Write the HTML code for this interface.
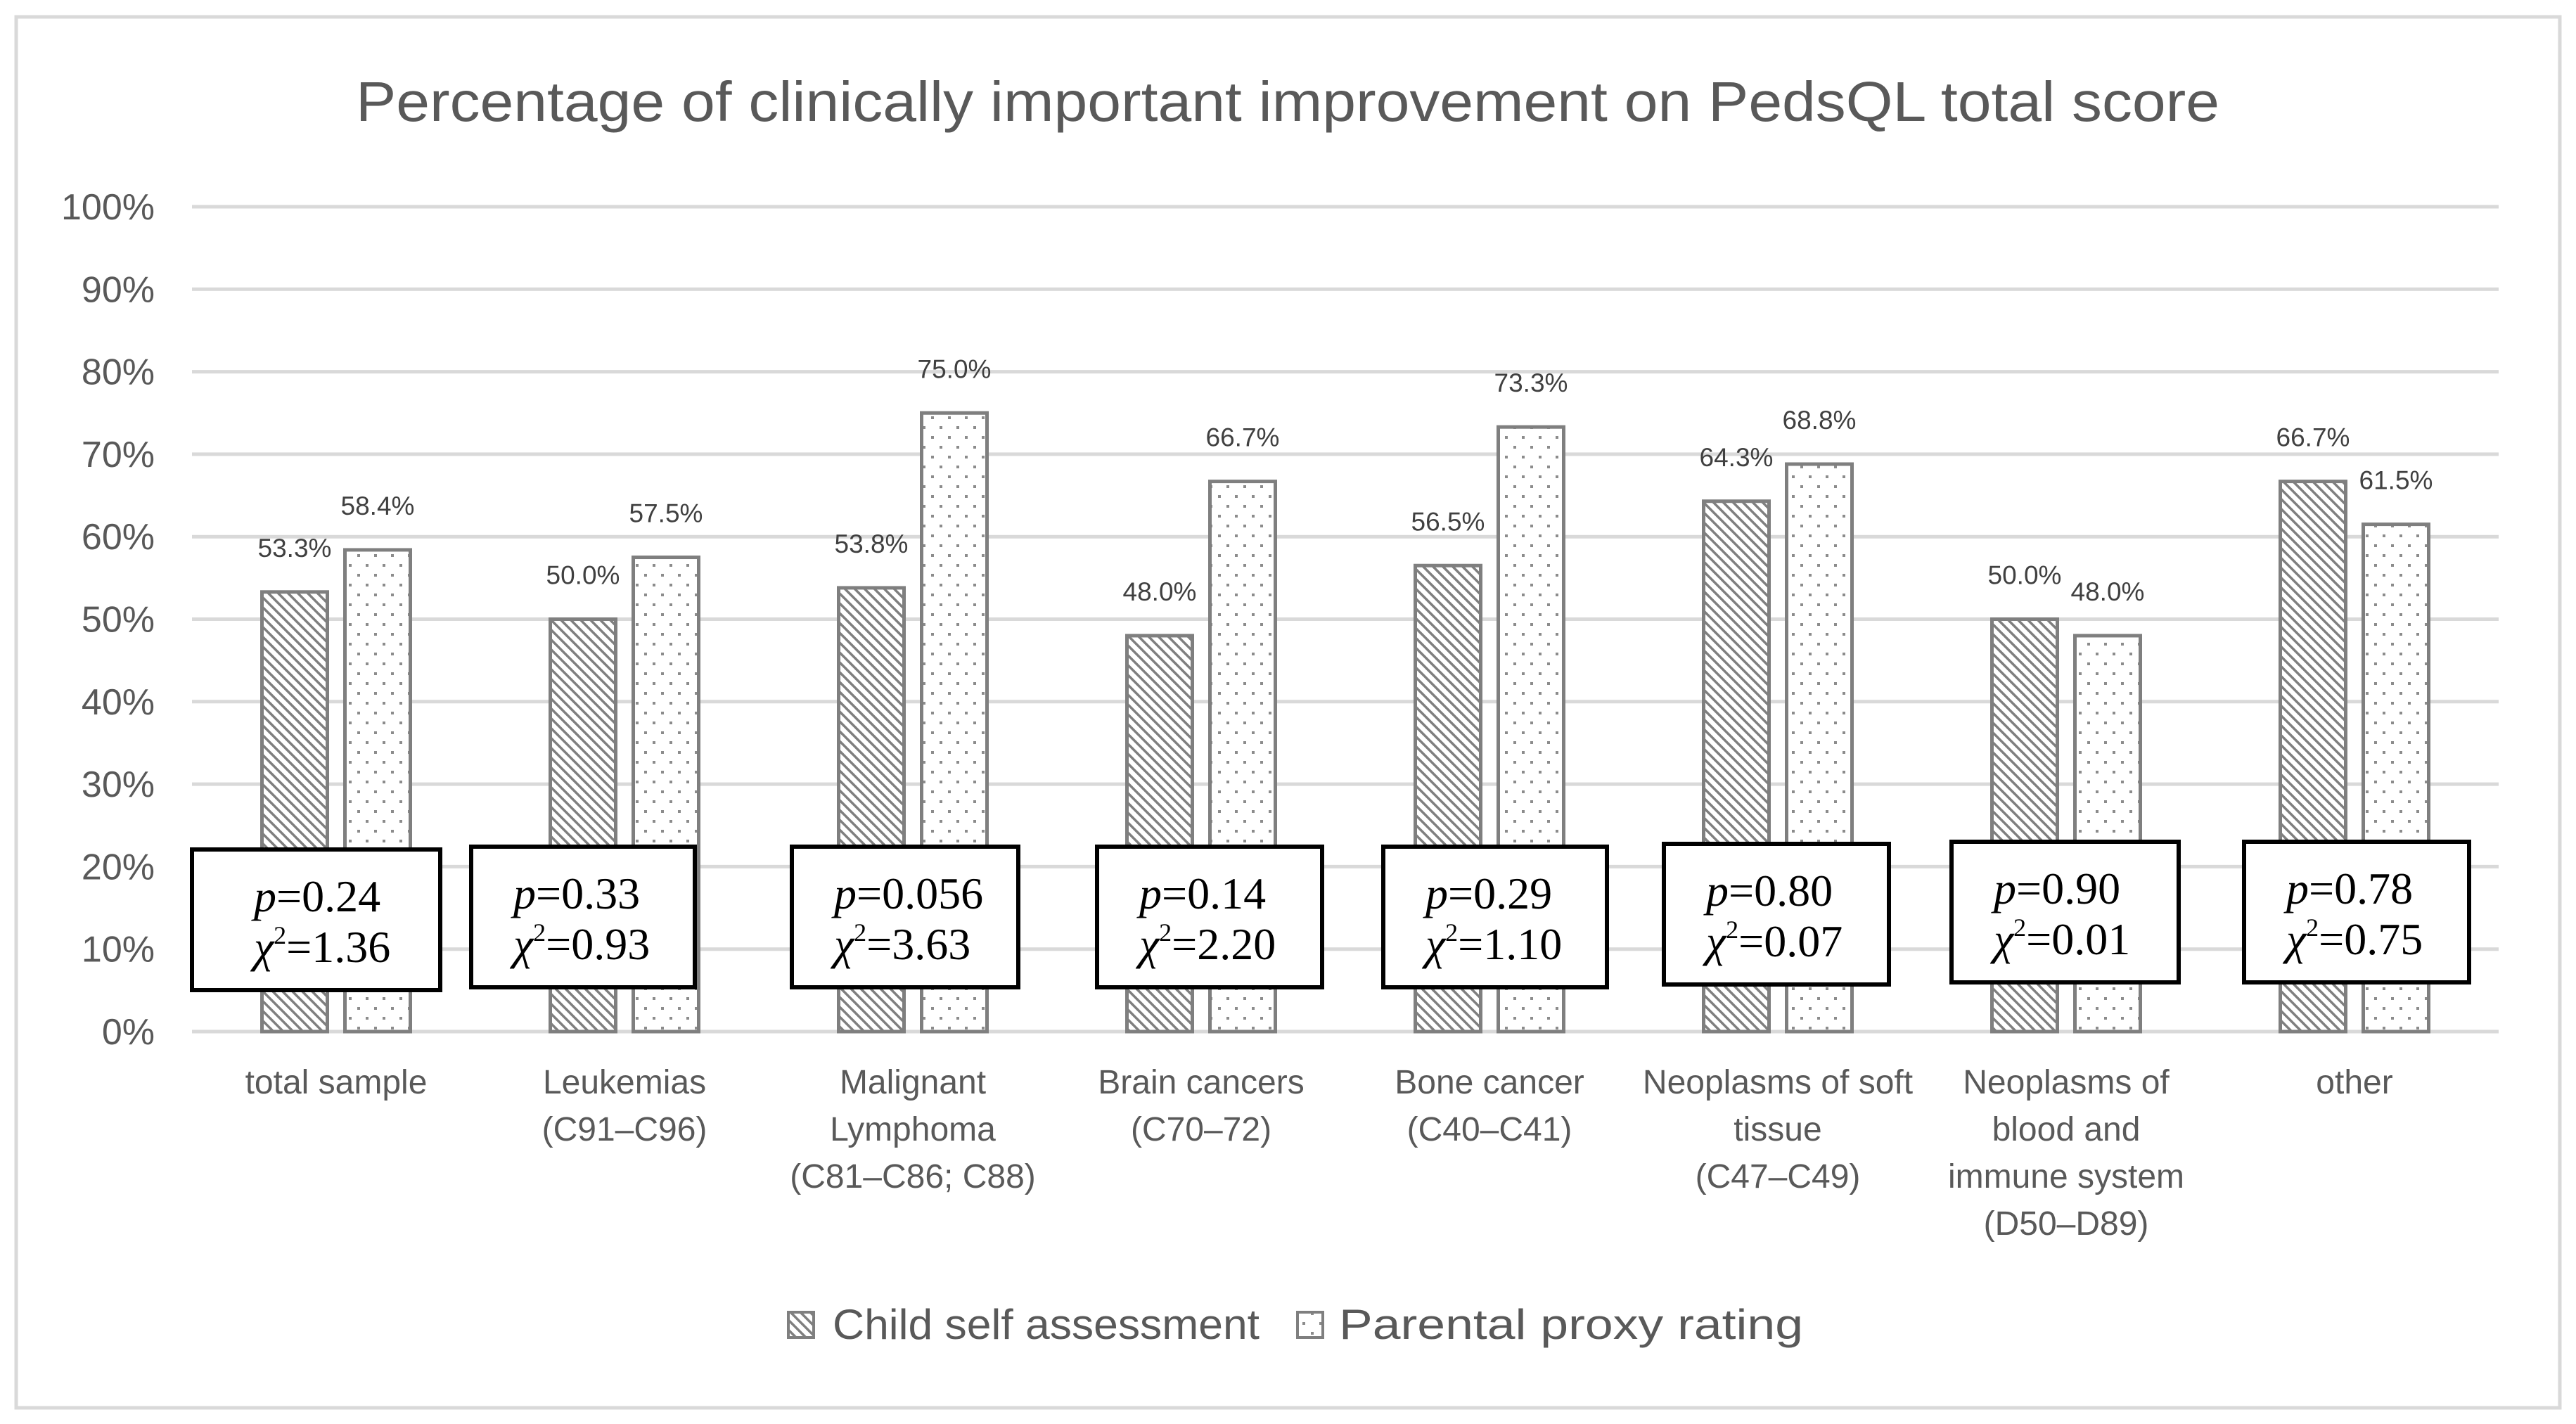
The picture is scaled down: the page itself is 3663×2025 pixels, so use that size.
<!DOCTYPE html>
<html><head><meta charset="utf-8"><style>
html,body{margin:0;padding:0;background:#fff;}
svg{display:block;}
</style></head><body>
<svg id="chart" width="3663" height="2025" viewBox="0 0 3663 2025" xmlns="http://www.w3.org/2000/svg">
<defs>
<pattern id="hatch" width="14" height="14" patternUnits="userSpaceOnUse">
<rect width="14" height="14" fill="#fff"/>
<path d="M-3,-3 L17,17 M-3,11 L3,17 M11,-3 L17,3" stroke="#7f7f7f" stroke-width="3.5"/>
</pattern>
<pattern id="dots" width="24" height="28" patternUnits="userSpaceOnUse">
<rect width="24" height="28" fill="#fff"/>
<rect x="4" y="4" width="4" height="4" fill="#8c8c8c"/>
<rect x="16" y="18" width="4" height="4" fill="#8c8c8c"/>
</pattern>
</defs>
<rect x="23" y="24" width="3617" height="1978" fill="#fff" stroke="#d9d9d9" stroke-width="5"/>
<text x="1831" y="172" text-anchor="middle" font-family="Liberation Sans, sans-serif" font-size="80" fill="#595959" textLength="2650" lengthAdjust="spacingAndGlyphs">Percentage of clinically important improvement on PedsQL total score</text>
<g id="grid"></g><g id="bars"></g><g id="boxes"></g><g id="labels"></g>
<g>
<rect x="1121" y="1866" width="36" height="36" fill="url(#hatch)" stroke="#7f7f7f" stroke-width="4"/>
<text x="1184" y="1904" font-family="Liberation Sans, sans-serif" font-size="60" fill="#595959" textLength="607" lengthAdjust="spacingAndGlyphs">Child self assessment</text>
<rect x="1845" y="1866" width="36" height="36" fill="url(#dots)" stroke="#7f7f7f" stroke-width="4"/>
<text x="1904" y="1904" font-family="Liberation Sans, sans-serif" font-size="60" fill="#595959" textLength="660" lengthAdjust="spacingAndGlyphs">Parental proxy rating</text>
</g>
</svg>
<script>
const categories = [["total sample"],["Leukemias","(C91–C96)"],["Malignant","Lymphoma","(C81–C86; C88)"],["Brain cancers","(C70–72)"],["Bone cancer","(C40–C41)"],["Neoplasms of soft","tissue","(C47–C49)"],["Neoplasms of","blood and","immune system","(D50–D89)"],["other"]];
const childValues = [53.3,50.0,53.8,48.0,56.5,64.3,50.0,66.7];
const parentValues = [58.4,57.5,75.0,66.7,73.3,68.8,48.0,61.5];
const pValues = ["0.24","0.33","0.056","0.14","0.29","0.80","0.90","0.78"];
const chiValues = ["1.36","0.93","3.63","2.20","1.10","0.07","0.01","0.75"];
const yTicks = [0,10,20,30,40,50,60,70,80,90,100];

// annotation box layout (pixels, not data)
const boxLeft = [273,670,1126,1560,1967,2366,2775,3191];
const boxRight = [626,988,1448,1880,2285,2686,3098,3511];
const boxTop = [1208,1204,1204,1204,1204,1200,1197,1197];

const NS="http://www.w3.org/2000/svg";
const plotL=273, plotR=3553, y0=1467, y100=294;
const yScale=v=>y0-(v/100)*(y0-y100);
const band=(plotR-plotL)/categories.length;
const xCenter=i=>plotL+band*(i+0.5);
const barW=93, off=59;
function mk(tag,attrs,parent){const e=document.createElementNS(NS,tag);for(const k in attrs)e.setAttribute(k,attrs[k]);parent.appendChild(e);return e;}
const grid=document.getElementById('grid'),bars=document.getElementById('bars'),boxes=document.getElementById('boxes'),labels=document.getElementById('labels');
yTicks.forEach(t=>{
  const l=mk('line',{x1:plotL,x2:plotR,y1:yScale(t),y2:yScale(t),stroke:'#d9d9d9','stroke-width':5},grid);
  
  
  const tx=mk('text',{x:220,y:yScale(t)+18,'text-anchor':'end','font-family':'Liberation Sans, sans-serif','font-size':52,fill:'#595959'},grid);
  tx.textContent=t+'%';
  
  
});
categories.forEach((c,i)=>{
  const cx=xCenter(i);
  [[childValues[i],-off,'url(#hatch)','child'],[parentValues[i],off,'url(#dots)','parent']].forEach(([v,o,f,n])=>{
    const r=mk('rect',{x:cx+o-barW/2,y:yScale(v),width:barW,height:y0-yScale(v),fill:f,stroke:'#7f7f7f','stroke-width':5},bars);
    
    
    const t=mk('text',{x:cx+o,y:yScale(v)-50,'text-anchor':'middle','font-family':'Liberation Sans, sans-serif','font-size':37,fill:'#404040'},labels);
    t.textContent=v.toFixed(1)+'%';
    
    
  });
  const bx=boxLeft[i], by=boxTop[i], bw=boxRight[i]-boxLeft[i];
  const b=mk('rect',{x:bx,y:by,width:bw,height:200,fill:'#fff',stroke:'#000','stroke-width':6},boxes);
  
  
  const tl=bx+(i==0?88:60);
  const t1=mk('text',{x:tl,y:by+88,'font-family':'Liberation Serif, serif','font-size':64,fill:'#000'},boxes);
  t1.innerHTML='<tspan font-style="italic">p</tspan>='+pValues[i];
  
  
  const t2=mk('text',{x:tl,y:by+160,'font-family':'Liberation Serif, serif','font-size':64,fill:'#000'},boxes);
  t2.innerHTML='<tspan font-style="italic">χ</tspan><tspan font-size="36" dy="-26">2</tspan><tspan dy="26">='+chiValues[i]+'</tspan>';
  
  
  c.forEach((line,k)=>{
    const t=mk('text',{x:cx,y:1555+k*67,'text-anchor':'middle','font-family':'Liberation Sans, sans-serif','font-size':48,fill:'#595959'},labels);
    t.textContent=line;
    
    
  });
});
</script>
</body></html>
